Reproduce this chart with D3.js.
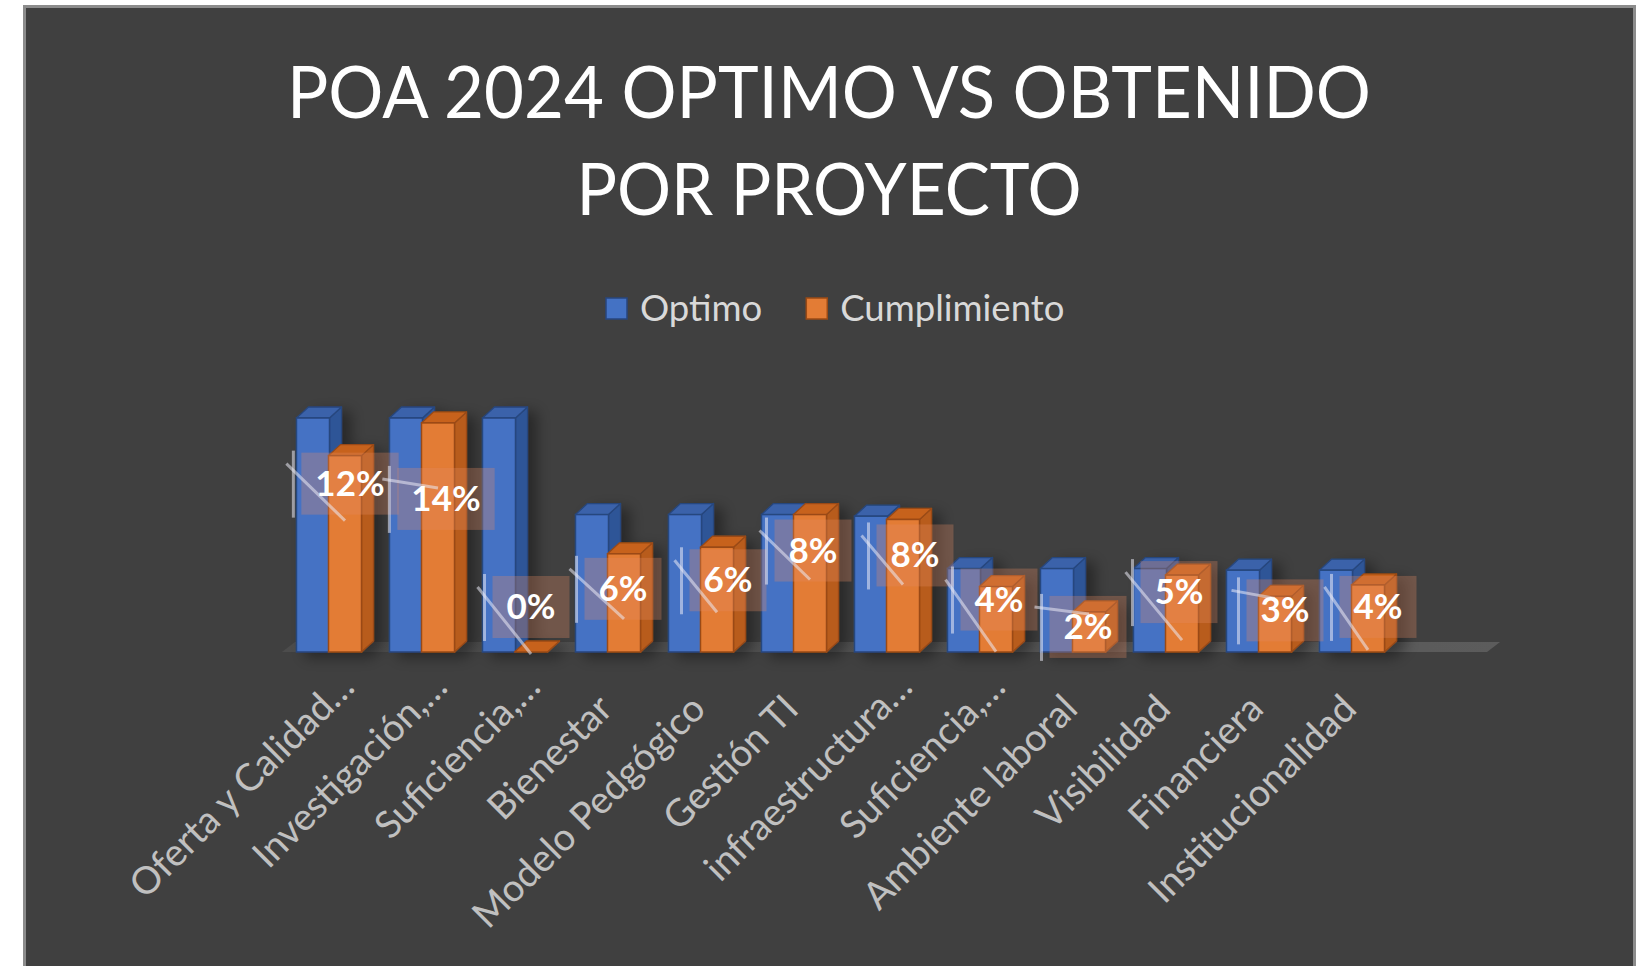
<!DOCTYPE html>
<html><head><meta charset="utf-8">
<script src="https://cdn.jsdelivr.net/npm/d3@7"></script>
<style>html,body{margin:0;padding:0;background:#fff;overflow:hidden}svg{display:block}</style>
</head><body>
<svg id="c" width="1639" height="966"></svg>
<script>
// ---------------- data ----------------
const titleLines = ["POA 2024 OPTIMO VS OBTENIDO", "POR PROYECTO"];
const seriesNames = ["Optimo", "Cumplimiento"];
const categories = ["Oferta y Calidad…", "Investigación,…", "Suficiencia,…", "Bienestar",
  "Modelo Pedgógico", "Gestión TI", "infraestructura…", "Suficiencia,…",
  "Ambiente laboral", "Visibilidad", "Financiera", "Institucionalidad"];
const optimo = [14.3, 14.3, 14.3, 8.4, 8.4, 8.4, 8.3, 5.1, 5.1, 5.1, 5.0, 5.0];
const cumplimiento = [12, 14, 0, 6, 6.4, 8.4, 8.1, 4.0, 2.45, 4.7, 3.4, 4.1];
// label placement nudges (pixels, like manually moved Excel labels)
const labelDx = [5, 8, 0, -1, 11, 3, 12, 3, -1, -3, 10, 10];
const labelDy = [28, 76, -45, 35, 33, 36, 36, 13, 15, 17, 14, 22];

// ---------------- layout ----------------
const W = 1639, H = 966;
const svg = d3.select("#c");
const defs = svg.append("defs");
const FONT = "Lato, 'Open Sans', sans-serif";

const flt = defs.append("filter").attr("id", "sh").attr("x", "-30%").attr("y", "-30%").attr("width", "170%").attr("height", "160%");
flt.append("feDropShadow").attr("dx", 9).attr("dy", 5).attr("stdDeviation", 7)
  .attr("flood-color", "#000").attr("flood-opacity", 0.38);

const fg = defs.append("linearGradient").attr("id", "floor").attr("x1", 0).attr("x2", 1).attr("y1", 0).attr("y2", 0);
fg.append("stop").attr("offset", 0).attr("stop-color", "#4c4c4c");
fg.append("stop").attr("offset", 1).attr("stop-color", "#5c5c5c");

svg.append("rect").attr("width", W).attr("height", H).attr("fill", "#ffffff");
svg.append("rect").attr("x", 24.5).attr("y", 6.5).attr("width", 1610).attr("height", 990)
  .attr("fill", "#404040").attr("stroke", "#8c8c8c").attr("stroke-width", 3);

// title
const titleWidths = [1084, 505];
titleLines.forEach((t, i) => {
  svg.append("text").attr("x", 829).attr("y", 118 + i * 97)
    .attr("text-anchor", "middle").attr("font-family", FONT).attr("font-size", 71)
    .attr("fill", "#ffffff").attr("textLength", titleWidths[i]).attr("lengthAdjust", "spacingAndGlyphs")
    .text(t);
});

// colours
const pal = {
  Optimo: {front: "#4472C4", top: "#3A62AA", side: "#2F5597", stroke: "#27467E"},
  Cumplimiento: {front: "#E37C35", top: "#C7621E", side: "#B85C1E", stroke: "#9A4A15"}
};

// legend
const lg = svg.append("g");
let lx = 606;
seriesNames.forEach((s) => {
  lg.append("rect").attr("x", lx).attr("y", 298).attr("width", 21).attr("height", 21)
    .attr("fill", pal[s].front).attr("stroke", pal[s].stroke).attr("stroke-width", 1.5);
  const t = lg.append("text").attr("x", lx + 34).attr("y", 321).attr("font-family", FONT)
    .attr("font-size", 36.5).attr("fill", "#d9d9d9").text(s);
  lx += 34 + t.node().getComputedTextLength() + 44;
});

// scales
const base = 652;
const x0 = d3.scaleBand().domain(d3.range(categories.length)).range([283, 283 + 93 * categories.length])
  .paddingInner(0.29).paddingOuter(0.145);
const x1 = d3.scaleBand().domain(seriesNames).range([0, x0.bandwidth()]);
const y = d3.scaleLinear().domain([0, d3.max(optimo)]).range([base, 418]);
const DX = 12, DY = -11;
const bw = x1.bandwidth();

// floor
const fl = x0.range()[0] - 1, fr = x0.range()[1] + x0.step() - 5;
svg.append("polygon").attr("points", [[fl, base], [fl + DX + 1, base + DY + 1], [fr + DX + 1, base + DY + 1], [fr, base]].map(p => p.join(",")).join(" "))
  .attr("fill", "url(#floor)");

// bars
const barsG = svg.append("g").attr("filter", "url(#sh)");
const values = {Optimo: optimo, Cumplimiento: cumplimiento};
categories.forEach((c, i) => {
  const g = barsG.append("g");
  seriesNames.forEach((s) => {
    const xl = x0(i) + x1(s) - (s === "Cumplimiento" ? 1 : 0);
    const yt = y(values[s][i]);
    const p = pal[s];
    const pts = a => a.map(q => q.join(",")).join(" ");
    g.append("polygon").attr("points", pts([[xl + bw, yt], [xl + bw + DX, yt + DY], [xl + bw + DX, base + DY], [xl + bw, base]]))
      .attr("fill", p.side).attr("stroke", p.stroke).attr("stroke-width", 1.3).attr("stroke-linejoin", "round");
    g.append("polygon").attr("points", pts([[xl, yt], [xl + DX, yt + DY], [xl + bw + DX, yt + DY], [xl + bw, yt]]))
      .attr("fill", p.top).attr("stroke", p.stroke).attr("stroke-width", 1.3).attr("stroke-linejoin", "round");
    if (base - yt > 0.5) {
      g.append("rect").attr("x", xl).attr("y", yt).attr("width", bw).attr("height", base - yt)
        .attr("fill", p.front).attr("stroke", p.stroke).attr("stroke-width", 1.5);
    }
  });
});

// data labels
const lbl = svg.append("g");
categories.forEach((c, i) => {
  const v = cumplimiento[i];
  const bcx = x0(i) + x1("Cumplimiento") - 1 + bw / 2;
  const top = y(v);
  const cx = bcx + labelDx[i];
  const cy = (v === 0 ? base : top) + labelDy[i];
  const t = lbl.append("text").attr("x", cx).attr("y", cy + 12).attr("text-anchor", "middle")
    .attr("font-family", FONT).attr("font-weight", "bold").attr("font-size", 35).attr("fill", "#ffffff")
    .text(Math.round(v) + "%");
  const tw = t.node().getComputedTextLength();
  const bwid = tw + 28, bh = 62;
  const bl = cx - bwid / 2, bt = cy - bh / 2;
  lbl.insert("rect", "text").attr("x", bl).attr("y", bt).attr("width", bwid).attr("height", bh)
    .attr("fill", "rgba(228,140,100,0.30)");
  const endY = (top + 65 <= base + 0.5) ? top + 65 : top + 2;
  lbl.append("line").attr("x1", bl - 8).attr("x2", bl - 8).attr("y1", bt - 2).attr("y2", bt + bh + 3)
    .attr("stroke", "rgba(235,235,245,0.55)").attr("stroke-width", 3);
  lbl.append("line").attr("x1", bl - 15).attr("y1", bt + 11).attr("x2", bcx).attr("y2", endY)
    .attr("stroke", "rgba(235,235,245,0.55)").attr("stroke-width", 3);
  t.raise();
});

// category axis labels (rotated)
const ax = svg.append("g");
const axFont = 38;
categories.forEach((c, i) => {
  const trunc = c.endsWith("…");
  const px = x0(i) + (trunc ? 60 : 39);
  const py = trunc ? 689 : 711;
  ax.append("text").attr("x", px).attr("y", py).attr("text-anchor", "end")
    .attr("transform", `rotate(-45,${px},${py})`)
    .attr("font-family", FONT).attr("font-size", axFont).attr("fill", "#c0c0c0").text(c);
});
</script>
</body></html>
